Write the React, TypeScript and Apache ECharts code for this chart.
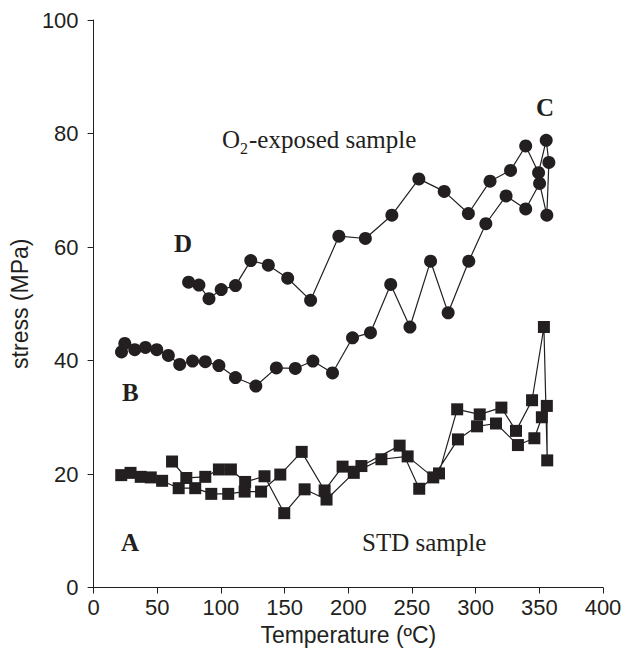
import React, { useEffect, useRef } from "react";
import * as echarts from "echarts";

// O2-exposed sample: heating from B up to C, then cooling back down to D
const o2Temp = [21.9, 24.5, 32.3, 40.7, 49.6, 58.7, 67.6, 77.7, 87.7, 98.4, 111.4, 127.4, 143.5, 158.4, 172.2, 187.6, 203.3, 217.4, 233.3, 248.4, 264.6, 278.4, 294.6, 308.0, 323.9, 339.3, 350.2, 355.9, 357.5, 355.4, 349.4, 339.3, 327.4, 311.3, 294.3, 275.3, 255.4, 234.2, 213.4, 192.6, 170.4, 152.4, 137.2, 123.4, 111.4, 100.2, 90.6, 82.7, 74.6];
const o2Stress = [41.5, 43.0, 41.9, 42.3, 41.9, 40.9, 39.3, 39.9, 39.8, 39.1, 37.0, 35.5, 38.7, 38.6, 39.9, 37.8, 44.0, 44.9, 53.4, 45.9, 57.5, 48.4, 57.5, 64.1, 69.0, 66.7, 71.2, 65.6, 74.9, 78.8, 73.1, 77.8, 73.5, 71.6, 65.9, 69.8, 72.0, 65.6, 61.5, 61.9, 50.6, 54.5, 56.8, 57.6, 53.2, 52.5, 50.9, 53.3, 53.8];

// STD sample: heating from A, then cooling back
const stdTemp = [21.7, 29.0, 37.0, 44.9, 53.8, 66.8, 79.8, 92.4, 105.7, 118.6, 131.5, 146.6, 163.4, 181.4, 195.5, 210.3, 240.3, 255.7, 271.2, 285.5, 303.2, 320.2, 331.7, 344.3, 353.6, 356.2, 355.9, 352.0, 346.1, 333.2, 316.0, 301.1, 286.1, 266.7, 246.6, 226.0, 204.3, 182.9, 165.7, 149.7, 134.2, 119.0, 107.8, 98.4, 87.7, 72.8, 61.6];
const stdStress = [19.8, 20.2, 19.5, 19.4, 18.8, 17.5, 17.5, 16.5, 16.5, 16.9, 16.9, 19.9, 23.9, 17.1, 21.3, 21.4, 25.0, 17.4, 20.1, 31.4, 30.5, 31.7, 27.6, 33.0, 45.9, 22.4, 32.0, 30.0, 26.3, 25.1, 28.9, 28.4, 26.1, 19.4, 23.1, 22.6, 20.2, 15.5, 17.3, 13.1, 19.6, 18.6, 20.8, 20.8, 19.5, 19.3, 22.2];

const xTicks = [0, 50, 100, 150, 200, 250, 300, 350, 400];
const yTicks = [0, 20, 40, 60, 80, 100];

const INK = "#231f20";
const SERIF = "'Liberation Serif', 'Times New Roman', serif";
const SANS = "'Liberation Sans', Arial, sans-serif";

export default function App() {
  const ref = useRef<HTMLDivElement>(null);

  useEffect(() => {
    document.body.style.margin = "0";
    const chart = echarts.init(ref.current!, null, { renderer: "svg" });
    const zip = (xs: number[], ys: number[]) => xs.map((x, i) => [x, ys[i]]);
    chart.setOption({
      animation: false,
      backgroundColor: "#ffffff",
      grid: { left: 92, right: 29, top: 20, bottom: 72.5, containLabel: false },
      xAxis: {
        type: "value",
        min: xTicks[0],
        max: xTicks[xTicks.length - 1],
        interval: 50,
        name: "Temperature (ºC)",
        nameLocation: "middle",
        nameGap: 35,
        nameTextStyle: { color: INK, fontFamily: SANS, fontSize: 23 },
        axisLine: { show: true, lineStyle: { color: INK, width: 1 } },
        axisTick: { show: true, inside: false, length: 6, lineStyle: { color: INK } },
        axisLabel: { color: INK, fontFamily: SANS, fontSize: 22, margin: 9 },
        splitLine: { show: false },
      },
      yAxis: {
        type: "value",
        min: yTicks[0],
        max: yTicks[yTicks.length - 1],
        interval: 20,
        name: "stress (MPa)",
        nameLocation: "middle",
        nameGap: 46,
        nameTextStyle: { color: INK, fontFamily: SANS, fontSize: 23 },
        axisLine: { show: true, lineStyle: { color: INK, width: 1 } },
        axisTick: { show: true, inside: false, length: 6, lineStyle: { color: INK } },
        axisLabel: { color: INK, fontFamily: SANS, fontSize: 22, margin: 15 },
        splitLine: { show: false },
      },
      series: [
        {
          name: "O2-exposed sample",
          type: "line",
          data: zip(o2Temp, o2Stress),
          symbol: "circle",
          symbolSize: 13,
          showAllSymbol: true,
          itemStyle: { color: INK, borderWidth: 0 },
          lineStyle: { color: INK, width: 1.2 },
          z: 3,
        },
        {
          name: "STD sample",
          type: "line",
          data: zip(stdTemp, stdStress),
          symbol: "rect",
          symbolSize: 12,
          showAllSymbol: true,
          itemStyle: { color: INK, borderWidth: 0 },
          lineStyle: { color: INK, width: 1.2 },
          z: 3,
        },
      ],
      graphic: [
        { type: "text", left: 222, top: 127, style: { text: "O", font: `25px ${SERIF}`, fill: INK } },
        { type: "text", left: 240, top: 140, style: { text: "2", font: `16px ${SERIF}`, fill: INK } },
        { type: "text", left: 249, top: 127, style: { text: "-exposed sample", font: `25px ${SERIF}`, fill: INK } },
        { type: "text", left: 362, top: 530, style: { text: "STD sample", font: `25px ${SERIF}`, fill: INK } },
        { type: "text", left: 536, top: 95, style: { text: "C", font: `bold 25px ${SERIF}`, fill: INK } },
        { type: "text", left: 174, top: 231, style: { text: "D", font: `bold 25px ${SERIF}`, fill: INK } },
        { type: "text", left: 122, top: 380, style: { text: "B", font: `bold 25px ${SERIF}`, fill: INK } },
        { type: "text", left: 121, top: 530, style: { text: "A", font: `bold 25px ${SERIF}`, fill: INK } },
      ],
    });
    return () => chart.dispose();
  }, []);

  return <div ref={ref} style={{ width: 632, height: 660 }} />;
}
